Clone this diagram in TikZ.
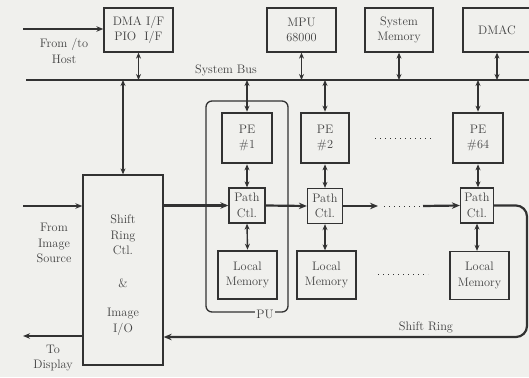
\documentclass[tikz,border=0pt]{standalone}
\usetikzlibrary{arrows.meta}
\definecolor{ink}{RGB}{50,50,50}
\definecolor{txt}{RGB}{65,65,65}
\definecolor{paper}{RGB}{240,240,237}
\newcommand{\lblfont}{\fontsize{12.3}{15.5}\selectfont}
\begin{document}
\begin{tikzpicture}[x=1pt,y=-1pt,
  blk/.style={draw=ink, line width=1.3pt, align=center, inner sep=0pt,
    text=txt, font=\lblfont},
  peblk/.style={blk, line width=2.6pt},
  lbl/.style={align=center, inner sep=0pt, text=txt, font=\lblfont},
  tip/.style={-{Stealth[length=7pt,width=5.5pt]}},
  dbl/.style={{Stealth[length=6pt,width=5pt]}-{Stealth[length=6pt,width=5pt]},
    draw=ink, line width=1.4pt},
  bus/.style={draw=ink, line width=2.6pt},
  flow/.style={draw=ink, line width=2.2pt, -{Stealth[length=8pt,width=6.5pt]}},
  dotrow/.style={draw=ink, line width=1pt, dash pattern=on 1pt off 4pt}]

\fill[paper] (0,0) rectangle (529,377);
\useasboundingbox (0,0) rectangle (529,377);

% top row of bus devices
\node[blk, minimum width=69pt, minimum height=44pt] (dma) at (138.5,30) {DMA I/F\\PIO\ \ I/F};
\node[blk, minimum width=69pt, minimum height=44pt] (mpu) at (301.5,30) {MPU\\68000};
\node[blk, minimum width=68pt, minimum height=44pt] (smem) at (399,30) {System\\Memory};
\node[blk, minimum width=68pt, minimum height=44pt] (dmac) at (497,30) {DMAC};

% system bus
\coordinate (busL) at (26,80);
\coordinate (busR) at (530,80);
\draw[bus] (busL) -- (busR);
\node[lbl] (buslbl) at (226,70) {System Bus};

% host link
\coordinate (host) at (23,29);
\draw[draw=ink, line width=1.6pt, tip] (host) -- (host -| dma.west);
\node[lbl] (hostlbl) at (64,51) {From /to\\Host};

% processing unit frame
\draw[draw=ink, line width=1.3pt, rounded corners=6pt] (206,101) rectangle (288,312);
\node[lbl, fill=paper, inner sep=1.5pt] (pulbl) at (265,314) {PU};

% processing elements
\node[peblk, minimum width=50pt, minimum height=50pt] (pe1) at (247,138) {PE\\\#1};
\node[peblk, minimum width=48pt, minimum height=50pt] (pe2) at (325,138) {PE\\\#2};
\node[peblk, minimum width=50pt, minimum height=50pt] (pe64) at (478,138) {PE\\\#64};

% path controllers
\node[blk, minimum width=36pt, minimum height=35pt] (pc1) at (247,205.5) {Path\\Ctl.};
\node[blk, minimum width=35pt, minimum height=35pt] (pc2) at (325,206) {Path\\Ctl.};
\node[blk, minimum width=33pt, minimum height=35pt] (pc64) at (477,205.5) {Path\\Ctl.};

% local memories
\node[peblk, minimum width=59pt, minimum height=48pt] (lm1) at (247.5,275) {Local\\Memory};
\node[blk, minimum width=59pt, minimum height=48pt] (lm2) at (326.5,275) {Local\\Memory};
\node[blk, minimum width=59pt, minimum height=48pt] (lm64) at (479.5,275.5) {Local\\Memory};

% shift ring controller
\node[blk, minimum width=80pt, minimum height=190pt] (src) at (123,270) {};
\node[lbl] (srctop) at (123,235) {Shift\\Ring\\Ctl.};
\node[lbl] (srcamp) at (123,283) {\&};
\node[lbl] (srcbot) at (123,322) {Image\\I/O};

% bus connections
\draw[dbl] (dma.south) -- (dma.south |- busL);
\draw[dbl] (mpu.south) -- (mpu.south |- busL);
\draw[dbl] (smem.south) -- (smem.south |- busL);
\draw[dbl] (dmac.south) -- (dmac.south |- busL);
\draw[dbl] (src.north |- busL) -- (src.north);
\draw[dbl] (pe1.north |- busL) -- (pe1.north);
\draw[dbl] (pe2.north |- busL) -- (pe2.north);
\draw[dbl] (pe64.north |- busL) -- (pe64.north);

% PE / path / memory links
\draw[dbl] (pe1.south) -- (pc1.north);
\draw[dbl] (pc1.south) -- (lm1.north);
\draw[dbl] (pe2.south) -- (pe2.south |- pc2.north);
\draw[dbl] (pc2.south) -- (pc2.south |- lm2.north);
\draw[dbl] (pe64.south) -- (pe64.south |- pc64.north);
\draw[dbl] (pc64.south) -- (pc64.south |- lm64.north);

% image input and display output
\coordinate (imgin) at (23,206);
\draw[draw=ink, line width=1.8pt, tip] (imgin) -- (imgin -| src.west);
\node[lbl] (imglbl) at (54,243) {From\\Image\\Source};
\coordinate (dispout) at (23,336);
\draw[draw=ink, line width=1.4pt, tip] (dispout -| src.west) -- (dispout);
\node[lbl] (displbl) at (53,358) {To\\Display};

% shift ring data path
\coordinate (gapL) at (378,206);
\coordinate (gapR) at (423,206);
\draw[flow] (src.east |- pc1.west) -- (pc1.west);
\draw[flow] (pc1.east) -- (pc2.west);
\draw[flow] (pc2.east) -- (gapL);
\draw[dotrow] (384,206) -- (420,206);
\draw[flow] (gapR) -- (pc64.west);
\coordinate (ringNE) at (527,205.5);
\coordinate (ringSE) at (527,337);
\draw[flow, rounded corners=11pt] (pc64.east) -- (ringNE) -- (ringSE) -- (src.east |- ringSE);
\node[lbl] (ringlbl) at (426,327) {Shift Ring};

% elided elements
\draw[dotrow] (375,138) -- (432,138);
\draw[dotrow] (378,274) -- (428,274);
\end{tikzpicture}
\end{document}
